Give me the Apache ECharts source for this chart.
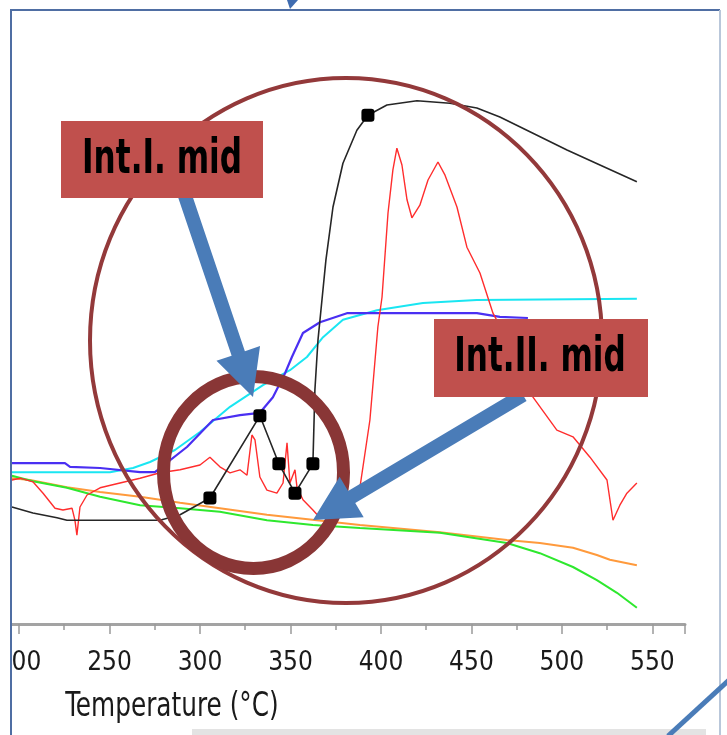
<!DOCTYPE html>
<html>
<head>
<meta charset="utf-8">
<script src="https://cdn.jsdelivr.net/npm/echarts@6.0.0/dist/echarts.min.js"></script>
<style>
html, body { margin: 0; padding: 0; background: #fff; }
#chart { width: 727px; height: 735px; }
</style>
</head>
<body>
<div id="chart"></div>
<script>
// font used for all the text (narrow, like the original slide)
var narrow = "'Liberation Sans Narrow', 'DejaVu Sans Condensed', 'Arial Narrow', sans-serif";

// [temperature (°C), signal (arb. units)]
var blackLine = [[196.1, 20.5], [207.7, 19.5], [221, 18.7], [226.5, 18.3], [277.9, 18.3], [289, 19.2],
    [305.5, 22], [333.1, 35.7], [343.6, 27.7], [352.5, 22.8], [362.4, 27.7], [363.5, 40], [365.2, 48.3],
    [367.4, 55], [369.6, 61.7], [373.5, 70.5], [379, 77.8], [386.7, 83.3], [392.8, 85.8], [403.3, 87.5],
    [419.9, 88.2], [438.1, 87.8], [453, 87], [465.7, 85.5], [484, 82.8], [502.8, 80], [521, 77.5], [541.4, 74.7]];
var blackMarks = [[305.5, 22], [333.1, 35.7], [343.6, 27.7], [352.5, 22.8], [362.4, 27.7], [392.8, 85.8]];

var redLine = [[196.1, 25], [200.6, 25.3], [207.7, 24.7], [213.3, 22.8], [219.9, 20.3], [224.3, 20], [229.3, 20.3],
    [230.9, 18.3], [232, 15.8], [233.7, 20.5], [237.6, 22.5], [244.8, 23.7], [255.8, 24.5], [266.9, 25.3],
    [277.9, 26.2], [289, 26.7], [300, 27.5], [305.5, 28.8], [311, 27.2], [316.6, 26.2], [322.1, 26.7],
    [326, 25.8], [328.7, 32.5], [330.4, 31.7], [333.1, 25.5], [337, 23.3], [342.5, 22.8], [345.9, 24.5],
    [348.1, 31.2], [349.7, 24.5], [352.5, 26.7], [353.6, 23.8], [356.9, 21.7], [362.4, 20], [366.3, 18.7],
    [370.7, 20.8], [374.6, 20], [380.1, 20.3], [384, 21.7], [388.4, 23.8], [393.9, 35], [398.3, 50.5],
    [400.6, 55.5], [403.9, 69.5], [406.6, 76.7], [408.8, 80.3], [411.6, 77.5], [414.4, 71.7], [417.1, 68.7],
    [421.5, 70.8], [426, 75], [431.5, 78], [435.4, 75.8], [442, 70.5], [447.5, 63.8], [454.7, 59.5],
    [461.9, 52.8], [471.3, 47.5], [479.6, 41.7], [484, 38.8], [497.2, 33.3], [506.1, 32.2], [515.5, 28.8],
    [524.9, 25], [528.2, 18.3], [532, 20.8], [535.9, 22.8], [541.4, 24.5]];

var purpleLine = [[196.1, 27.8], [225.4, 27.8], [228.2, 27.2], [244.8, 27], [266.9, 26.3], [275.1, 26.3],
    [292.8, 30.5], [307.2, 35], [322.1, 35.8], [333.1, 36.2], [340.3, 38.8], [347, 42.8], [350.8, 45.5],
    [356.9, 49.5], [366.3, 51.3], [381.2, 52.8], [390.1, 52.8], [453, 52.8], [465.7, 52.2], [481.2, 52]];

var cyanLine = [[196.1, 26.3], [250.3, 26.3], [263, 27], [272.4, 28], [286.2, 30], [300, 33], [316.6, 37.2],
    [334.8, 40.8], [349.7, 43.3], [359.1, 45.5], [368, 48.8], [379, 51.7], [397.8, 53.3], [423.2, 54.5],
    [453, 55], [541.4, 55.2]];

var orangeLine = [[196.1, 25.3], [206.1, 25], [226.5, 23.8], [244.8, 23], [266.9, 22.2], [289, 21.2],
    [311, 20.3], [337, 19.2], [364.6, 18.3], [388.4, 17.5], [432.6, 16.3], [469.6, 15], [487.8, 14.5],
    [506.1, 13.7], [519.3, 12.5], [526.5, 11.7], [541.4, 10.8]];

var greenLine = [[196.1, 25.7], [207.7, 24.8], [226.5, 23.7], [244.8, 22.2], [266.9, 20.8], [289, 20.3],
    [311, 19.7], [337, 18.3], [362.4, 17.5], [388.4, 17], [432.6, 16.2], [469.6, 14.5], [487.8, 12.8],
    [506.1, 10.5], [519.3, 8.3], [530.4, 6.2], [541.4, 3.7]];

var xTicks = { min: 150, max: 568, step: 50 };
var axisTitle = 'Temperature (°C)';
var labelOne = 'Int.I. mid';
var labelTwo = 'Int.II. mid';

// block arrow as one polygon (shaft + head)
function arrowPoints(x1, y1, x2, y2, sw, hw, hl) {
    var dx = x2 - x1, dy = y2 - y1;
    var len = Math.sqrt(dx * dx + dy * dy);
    var ux = dx / len, uy = dy / len;
    var px = -uy, py = ux;
    var bx = x2 - ux * hl, by = y2 - uy * hl;
    return [
        [x1 + px * sw / 2, y1 + py * sw / 2],
        [bx + px * sw / 2, by + py * sw / 2],
        [bx + px * hw / 2, by + py * hw / 2],
        [x2, y2],
        [bx - px * hw / 2, by - py * hw / 2],
        [bx - px * sw / 2, by - py * sw / 2],
        [x1 - px * sw / 2, y1 - py * sw / 2]
    ];
}

function lineSeries(data, color, width) {
    return {
        type: 'line',
        data: data,
        symbol: 'none',
        silent: true,
        lineStyle: { color: color, width: width }
    };
}

var myChart = echarts.init(document.getElementById('chart'), null, { renderer: 'canvas' });

var option = {
    animation: false,
    backgroundColor: '#fff',
    grid: { left: -71.5, right: 42, top: 30, bottom: 111, outerBoundsMode: 'none', containLabel: false },
    xAxis: {
        type: 'value',
        min: xTicks.min,
        max: xTicks.max,
        interval: xTicks.step,
        axisLine: { show: true, lineStyle: { color: '#a3a3a3', width: 3 } },
        axisTick: { show: true, length: 10, lineStyle: { color: '#9a9a9a', width: 1.5 } },
        minorTick: { show: true, splitNumber: 2, length: 6, lineStyle: { color: '#9a9a9a', width: 1.5 } },
        splitLine: { show: false },
        axisLabel: {
            margin: 26,
            color: '#1a1a1a',
            fontSize: 26,
            fontFamily: narrow,
            showMinLabel: false
        }
    },
    yAxis: {
        type: 'value',
        show: false,
        min: 1,
        max: 100
    },
    series: [
        lineSeries(orangeLine, '#ff9a3c', 2),
        lineSeries(greenLine, '#2ee82e', 2),
        lineSeries(cyanLine, '#1ae6f2', 2),
        lineSeries(purpleLine, '#4a2ff2', 2.2),
        lineSeries(redLine, '#ff2d2d', 1.4),
        lineSeries(blackLine, '#262626', 1.6),
        {
            type: 'scatter',
            data: blackMarks,
            symbol: 'roundRect',
            symbolSize: 13,
            itemStyle: { color: '#000', opacity: 1 },
            z: 5
        }
    ],
    graphic: [
        // frame of the slide
        { type: 'rect', z: 50, shape: { x: 0, y: 0, width: 10, height: 735 }, style: { fill: '#fff' } },
        { type: 'line', z: 51, shape: { x1: 11, y1: 10, x2: 11, y2: 735 }, style: { stroke: '#4f6ea3', lineWidth: 2 } },
        { type: 'line', z: 51, shape: { x1: 10, y1: 10, x2: 720, y2: 10 }, style: { stroke: '#4f6ea3', lineWidth: 2 } },
        { type: 'line', z: 51, shape: { x1: 720, y1: 10, x2: 720, y2: 735 }, style: { stroke: '#b9c7da', lineWidth: 2 } },
        { type: 'polygon', z: 51, shape: { points: [[287, 0], [298, 0], [290, 9]] }, style: { fill: '#3f6cb0' } },
        { type: 'rect', z: 50, shape: { x: 192, y: 729, width: 514, height: 6 }, style: { fill: '#e3e3e3' } },
        { type: 'line', z: 52, shape: { x1: 729, y1: 680, x2: 668, y2: 736 }, style: { stroke: '#4a7cb8', lineWidth: 5 } },
        // axis title
        {
            type: 'text', z: 40, x: 172, y: 707, scaleX: 0.81,
            style: { text: axisTitle, fontSize: 34, fontFamily: narrow, fill: '#1a1a1a', align: 'center', verticalAlign: 'middle' }
        },
        // circles
        {
            type: 'ellipse', z: 20, shape: { cx: 346, cy: 340.5, rx: 256, ry: 262.5 },
            style: { fill: null, stroke: '#93393a', lineWidth: 4 }
        },
        {
            type: 'ellipse', z: 21, shape: { cx: 253.5, cy: 472.5, rx: 90, ry: 96 },
            style: { fill: null, stroke: '#893636', lineWidth: 13 }
        },
        // arrows
        {
            type: 'polygon', z: 22, shape: { points: arrowPoints(183, 190, 253, 397, 14, 46, 46) },
            style: { fill: '#4a7cb8' }
        },
        {
            type: 'polygon', z: 22, shape: { points: arrowPoints(523, 395, 313, 520, 14, 47, 45) },
            style: { fill: '#4a7cb8' }
        },
        // labels
        { type: 'rect', z: 30, shape: { x: 61, y: 121, width: 202, height: 77 }, style: { fill: '#c0504d' } },
        {
            type: 'text', z: 31, x: 162, y: 161, scaleX: 0.72,
            style: { text: labelOne, fontSize: 48, fontWeight: 'bold', fontFamily: narrow, fill: '#000', align: 'center', verticalAlign: 'middle' }
        },
        { type: 'rect', z: 30, shape: { x: 434, y: 319, width: 214, height: 78 }, style: { fill: '#c0504d' } },
        {
            type: 'text', z: 31, x: 540, y: 359, scaleX: 0.72,
            style: { text: labelTwo, fontSize: 48, fontWeight: 'bold', fontFamily: narrow, fill: '#000', align: 'center', verticalAlign: 'middle' }
        }
    ]
};

myChart.setOption(option);
</script>
</body>
</html>
